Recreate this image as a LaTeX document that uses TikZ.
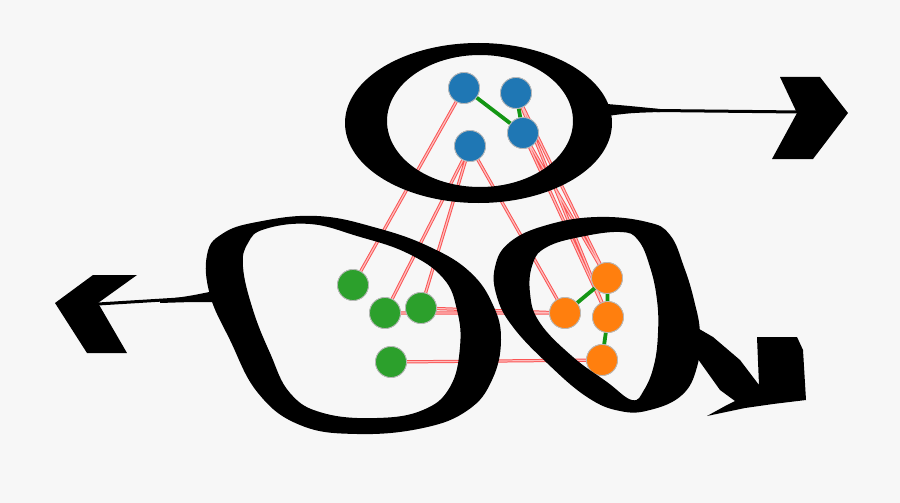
\documentclass[tikz,border=0pt]{standalone}
\usetikzlibrary{calc}
\definecolor{bgc}{HTML}{F7F7F7}
\definecolor{cblue}{HTML}{1F77B4}
\definecolor{cgreen}{HTML}{2CA02C}
\definecolor{corange}{HTML}{FF7F0E}
\definecolor{redge}{RGB}{250,85,85}
\definecolor{rfill}{RGB}{255,190,190}
\definecolor{gedge}{RGB}{20,150,20}
\tikzset{
  dot/.style={circle, minimum size=31pt, inner sep=0pt, draw=gray!55, line width=0.8pt},
  bdot/.style={dot, fill=cblue},
  gdot/.style={dot, fill=cgreen},
  odot/.style={dot, fill=corange},
  redline/.style={draw=redge, double=rfill, double distance=1.2pt, line width=1pt},
  greenline/.style={draw=gedge, line width=3.8pt},
  ink/.style={fill=black, even odd rule},
  shaft/.style={draw=black, line width=3pt},
}
\begin{document}
\begin{tikzpicture}[x=1pt, y=-1pt]
\fill[bgc] (0,0) rectangle (900,503);
\useasboundingbox (0,0) rectangle (900,503);

% nodes
\node[bdot] (A) at (464,88) {};
\node[bdot] (B) at (516,93) {};
\node[bdot] (C) at (523,133) {};
\node[bdot] (D) at (470,146) {};
\node[gdot] (G1) at (353,285) {};
\node[gdot] (G2) at (385,313) {};
\node[gdot] (G3) at (421,308) {};
\node[gdot] (G4) at (391,362) {};
\node[odot] (O1) at (607,278) {};
\node[odot] (O2) at (565,313) {};
\node[odot] (O3) at (608,317) {};
\node[odot] (O4) at (602,360) {};

% edges
\path[redline] (A) -- (G1) (D) -- (G2) (D) -- (G3) (D) -- (O2)
  (C) -- (O1) (C) -- (O3) (B) -- (O1) (B) -- (O3)
  (G2) -- (O2) (G3) -- (O2) (G4) -- (O4);
\path[greenline] (A) -- (C) (B) -- (C) (O1) -- (O2) (O1) -- (O3) (O3) -- (O4);
% nodes again on top of edges
\foreach \n in {A,B,C,D} {\node[bdot] at (\n) {};}
\foreach \n in {G1,G2,G3,G4} {\node[gdot] at (\n) {};}
\foreach \n in {O1,O2,O3,O4} {\node[odot] at (\n) {};}

% top O
\fill[ink] (478.5,123) ellipse [x radius=133.5, y radius=80]
  (480,121) ellipse [x radius=93, y radius=66];

% left O
\fill[ink] plot[smooth cycle, tension=0.7] coordinates {(207,255) (222,234) (257,222) (317,216) (377,228) (430,247) (470,272) (493,305) (501,340) (492,380) (468,410) (423,428) (357,434) (300,425) (258,393) (230,340) (210,295)}
  plot[smooth cycle, tension=0.7] coordinates {(243,267) (248,243) (265,229) (310,224) (357,236) (407,253) (443,278) (457,310) (460,347) (450,387) (423,410) (377,418) (323,413) (290,393) (270,353) (253,310)};

% right Q
\fill[ink] plot[smooth cycle, tension=0.7] coordinates {(495,267) (510,242) (547,225) (597,217) (647,222) (670,235) (684,267) (694,300) (700,333) (697,367) (682,395) (650,410) (620,411) (587,397) (547,363) (513,327) (497,297)}
  plot[smooth cycle, tension=0.7] coordinates {(533,263) (547,247) (580,237) (620,232) (638,240) (650,267) (657,300) (658,333) (654,365) (644,390) (632,400) (607,382) (573,357) (540,323) (530,293)};
% tail of Q
\fill[black] (694,326) -- (713,337) -- (740,360) -- (759,385) -- (757,337) -- (797,337) -- (803,350) -- (806,400) -- (773,404) -- (745,408) -- (707,416) -- (727,405) -- (735,401) -- (720,390) -- (700,362) -- (692,350) -- cycle;

% right arrow
\coordinate (tR) at (609,110);
\coordinate (tE) at (800,112);
\draw[shaft] (tR) -- (tE);
\fill[black] (607,104) .. controls (630,106) .. (660,109) -- (660,112) .. controls (630,113) .. (607,116) -- cycle;
\fill[black] (780,77) -- (820,77) -- (848,113) -- (813,159) -- (772,159) -- (797,113) -- cycle;

% left arrow
\coordinate (lL) at (212,297);
\coordinate (lE) at (98,304);
\draw[shaft] (lL) -- (lE);
\fill[black] (214,291) .. controls (190,296) .. (160,300) -- (160,303) .. controls (190,302) .. (214,302) -- cycle;
\fill[black] (55,303) -- (93,275) -- (137,275) -- (98,303) -- (127,353) -- (87,353) -- cycle;
\end{tikzpicture}
\end{document}
